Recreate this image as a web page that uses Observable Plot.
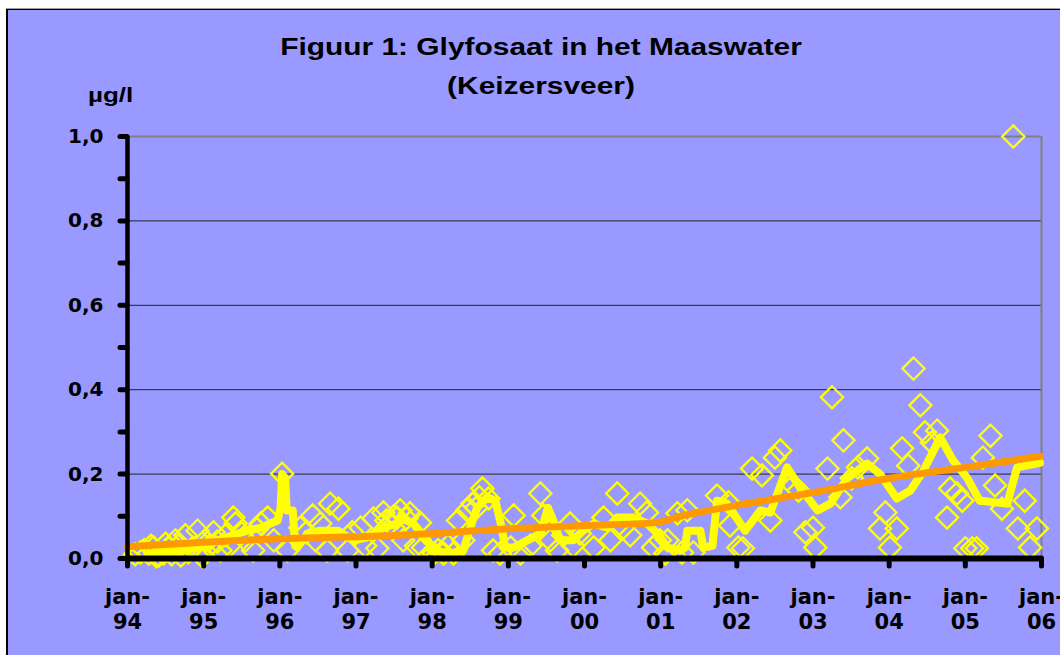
<!DOCTYPE html>
<html>
<head>
<meta charset="utf-8">
<script src="https://cdn.jsdelivr.net/npm/d3@7"></script>
<script src="https://cdn.jsdelivr.net/npm/@observablehq/plot@0.6"></script>
<style>
  html, body { margin: 0; padding: 0; background: #ffffff; }
  body { width: 1060px; height: 655px; position: relative; overflow: hidden; }
  #frame { position: absolute; left: 6px; top: 8px; width: 1100px; height: 700px; background: #9999FF;
           border-top: 1px solid #a0a0a0; }
  #frame-inner { position: absolute; left: 0; top: 0; right: 0; bottom: 0; border-top: 1px solid #000; border-left: 2px solid #000; }
  #chart { position: absolute; left: 0; top: 0; }
  .ttl { position: absolute; left: 0; width: 1082px; text-align: center; font-family: "Liberation Sans", Arial, sans-serif;
         font-weight: bold; font-size: 23px; color: #000; transform: scaleX(1.3); transform-origin: 541px 0; white-space: nowrap; }
  #unit { position: absolute; left: 88px; top: 84px; font-family: "Liberation Sans", Arial, sans-serif; font-weight: bold;
          font-size: 20px; color: #000; transform: scaleX(1.3); transform-origin: 0 0; }
</style>
</head>
<body>
<div id="frame"><div id="frame-inner"></div></div>
<div id="chart"></div>
<div class="ttl" style="top:34px;">Figuur 1: Glyfosaat in het Maaswater</div>
<div class="ttl" style="top:73px;">(Keizersveer)</div>
<div id="unit">µg/l</div>
<script>
// Individual measurements (diamonds)
const obsYear = [
  1994.10,1994.17,1994.22,1994.28,1994.31,1994.34,1994.38,1994.41,1994.47,1994.50,1994.54,1994.58,1994.63,1994.67,1994.70,1994.76,1994.80,1994.85,1994.92,1994.98,
  1995.02,1995.08,1995.13,1995.18,1995.22,1995.29,1995.34,1995.39,1995.42,1995.50,1995.55,1995.65,1995.70,1995.75,1995.84,1995.92,
  1996.03,1996.10,1996.27,1996.35,1996.43,1996.47,1996.53,1996.62,1996.66,1996.77,1996.89,1996.95,
  1997.06,1997.12,1997.23,1997.28,1997.36,1997.40,1997.45,1997.50,1997.54,1997.58,1997.62,1997.66,1997.71,1997.79,1997.84,1997.88,
  1998.02,1998.08,1998.15,1998.21,1998.28,1998.34,1998.41,1998.46,1998.53,1998.58,1998.62,1998.66,1998.74,1998.80,1998.89,
  1999.03,1999.07,1999.16,1999.29,1999.42,1999.46,1999.55,1999.64,1999.72,1999.81,1999.85,1999.94,
  2000.12,2000.25,2000.34,2000.43,2000.51,2000.60,2000.73,2000.82,2000.90,2000.99,
  2001.06,2001.09,2001.22,2001.28,2001.35,2001.43,2001.74,2001.89,2001.91,
  2002.02,2002.08,2002.20,2002.33,2002.44,2002.50,2002.57,2002.74,2002.81,2002.90,
  2003.00,2003.03,2003.19,2003.25,2003.36,2003.40,2003.51,2003.59,2003.71,2003.88,2003.95,
  2004.01,2004.10,2004.17,2004.25,2004.32,2004.41,2004.47,2004.56,2004.63,2004.76,2004.80,2004.89,2004.96,
  2005.00,2005.09,2005.15,2005.23,2005.33,2005.39,2005.48,2005.63,2005.69,2005.78,2005.85,2005.94
];
const obsValue = [
  0.010,0.014,0.020,0.012,0.030,0.026,0.005,0.007,0.012,0.035,0.024,0.010,0.043,0.030,0.007,0.055,0.015,0.024,0.066,0.005,
  0.043,0.030,0.062,0.040,0.019,0.055,0.030,0.097,0.083,0.060,0.043,0.019,0.070,0.083,0.097,0.043,
  0.201,0.019,0.073,0.062,0.102,0.043,0.083,0.019,0.130,0.118,0.019,0.062,
  0.073,0.030,0.095,0.024,0.109,0.090,0.083,0.100,0.097,0.114,0.043,0.095,0.107,0.030,0.085,0.026,
  0.012,0.020,0.012,0.030,0.012,0.090,0.043,0.114,0.130,0.120,0.145,0.166,0.142,0.019,0.012,
  0.026,0.102,0.012,0.030,0.154,0.102,0.043,0.019,0.055,0.083,0.030,0.059,
  0.026,0.097,0.043,0.154,0.073,0.055,0.130,0.109,0.026,0.043,
  0.012,0.043,0.107,0.014,0.114,0.014,0.149,0.133,0.078,
  0.026,0.024,0.213,0.197,0.090,0.239,0.256,0.173,0.161,0.062,
  0.073,0.026,0.213,0.382,0.145,0.280,0.190,0.216,0.237,0.071,0.109,
  0.026,0.071,0.261,0.220,0.450,0.363,0.299,0.275,0.303,0.097,0.166,0.154,0.137,
  0.024,0.024,0.024,0.239,0.291,0.173,0.118,1.000,0.071,0.137,0.026,0.071
];

// Running average (thick yellow line)
const smoothYear = [
  1994.26,1994.79,1995.22,1995.57,1995.75,1995.97,1996.01,1996.03,1996.07,1996.09,1996.17,1996.20,1996.23,
  1996.36,1996.53,1996.76,1996.97,1997.15,1997.36,1997.54,1997.58,1997.75,1997.94,
  1998.02,1998.24,1998.41,1998.50,1998.59,1998.72,1998.83,1998.90,1998.96,
  1999.07,1999.25,1999.42,1999.52,1999.59,1999.68,1999.85,1999.98,
  2000.12,2000.30,2000.43,2000.56,2000.64,2000.82,2000.96,
  2001.09,2001.26,2001.32,2001.35,2001.52,2001.56,2001.68,2001.74,2001.87,
  2002.11,2002.31,2002.44,2002.66,2002.83,
  2003.06,2003.23,2003.45,2003.71,2003.88,
  2004.10,2004.28,2004.45,2004.67,2004.84,
  2005.02,2005.19,2005.55,2005.68,2005.98
];
const smoothValue = [
  0.010,0.020,0.045,0.066,0.073,0.090,0.120,0.200,0.190,0.114,0.114,0.030,0.026,
  0.059,0.066,0.066,0.043,0.050,0.073,0.083,0.097,0.083,0.043,
  0.019,0.012,0.019,0.073,0.120,0.145,0.137,0.083,0.026,
  0.026,0.043,0.059,0.120,0.090,0.043,0.043,0.066,
  0.083,0.073,0.097,0.097,0.097,0.083,0.059,
  0.026,0.019,0.026,0.066,0.066,0.026,0.030,0.137,0.130,
  0.066,0.114,0.109,0.216,0.168,
  0.114,0.130,0.190,0.225,0.200,
  0.142,0.161,0.208,0.287,0.232,
  0.192,0.137,0.130,0.216,0.227
];

// Long-term trend (orange line)
const trendYear  = [1994.0, 1996.0, 1997.58, 1999.07, 2000.01, 2000.93, 2001.26, 2002.0, 2002.99, 2004.0, 2005.0, 2005.98];
const trendValue = [0.028, 0.047, 0.055, 0.071, 0.078, 0.085, 0.100, 0.126, 0.156, 0.190, 0.216, 0.242];

// Axes
const yMajor = [0, 0.2, 0.4, 0.6, 0.8, 1.0];
const yMinor = [0.1, 0.3, 0.5, 0.7, 0.9];
const yGrid = [0.2, 0.4, 0.6, 0.8];
const xTickYear = [1994, 1995, 1996, 1997, 1998, 1999, 2000, 2001, 2002, 2003, 2004, 2005, 2006];
const xTickLabel = ["94", "95", "96", "97", "98", "99", "00", "01", "02", "03", "04", "05", "06"];

const obs = obsYear.map((y, i) => ({year: y, value: obsValue[i]}));
const smooth = smoothYear.map((y, i) => ({year: y, value: smoothValue[i]}));
const trend = trendYear.map((y, i) => ({year: y, value: trendValue[i]}));
const xTicks = xTickYear.map((y, i) => ({year: y, label: xTickLabel[i]}));

const fmt = d => d.toFixed(1).replace(".", ",");

const chart = Plot.plot({
  width: 1060,
  height: 655,
  marginLeft: 127,
  marginRight: 19,
  marginTop: 136,
  marginBottom: 97,
  style: {background: "transparent", fontFamily: "'DejaVu Sans', sans-serif", fontWeight: "bold", color: "#000", overflow: "visible"},
  x: {domain: [1994, 2006], axis: null, label: null},
  y: {domain: [0, 1], axis: null, label: null},
  marks: [
    Plot.ruleY(yGrid, {stroke: "#222", strokeWidth: 1}),
    Plot.ruleY([1], {stroke: "#808080", strokeWidth: 2}),
    Plot.ruleX([2006], {stroke: "#808080", strokeWidth: 2}),
    Plot.dot(obs, {x: "year", y: "value", symbol: "diamond2", r: 10, stroke: "#FFFF00", strokeWidth: 2.3, fill: "none"}),
    Plot.line(smooth, {x: "year", y: "value", stroke: "#FFFF00", strokeWidth: 8, strokeLinejoin: "round"}),
    Plot.line(trend, {x: "year", y: "value", stroke: "#FF9900", strokeWidth: 7, curve: "monotone-x"}),
    Plot.ruleX([1994], {stroke: "#000", strokeWidth: 4.5}),
    Plot.ruleY([0], {stroke: "#000", strokeWidth: 6}),
    Plot.axisY({ticks: yMajor, tickSize: 7, tickPadding: 17, strokeWidth: 5, strokeLinecap: "round",
                tickFormat: fmt, fontSize: 20, fontWeight: "bold", label: null}),
    Plot.axisY({ticks: yMinor, tickSize: 7, strokeWidth: 5, strokeLinecap: "round", tickFormat: () => "", label: null}),
    Plot.axisX({ticks: xTickYear, tickSize: 8, strokeWidth: 5, strokeLinecap: "round", tickFormat: () => "", label: null}),
    Plot.text(xTicks, {x: "year", text: () => "jan-", frameAnchor: "bottom", dy: 45, fontSize: 21, fontWeight: "bold"}),
    Plot.text(xTicks, {x: "year", text: "label", frameAnchor: "bottom", dy: 70, fontSize: 21, fontWeight: "bold"})
  ]
});
document.getElementById("chart").appendChild(chart);
</script>
</body>
</html>
